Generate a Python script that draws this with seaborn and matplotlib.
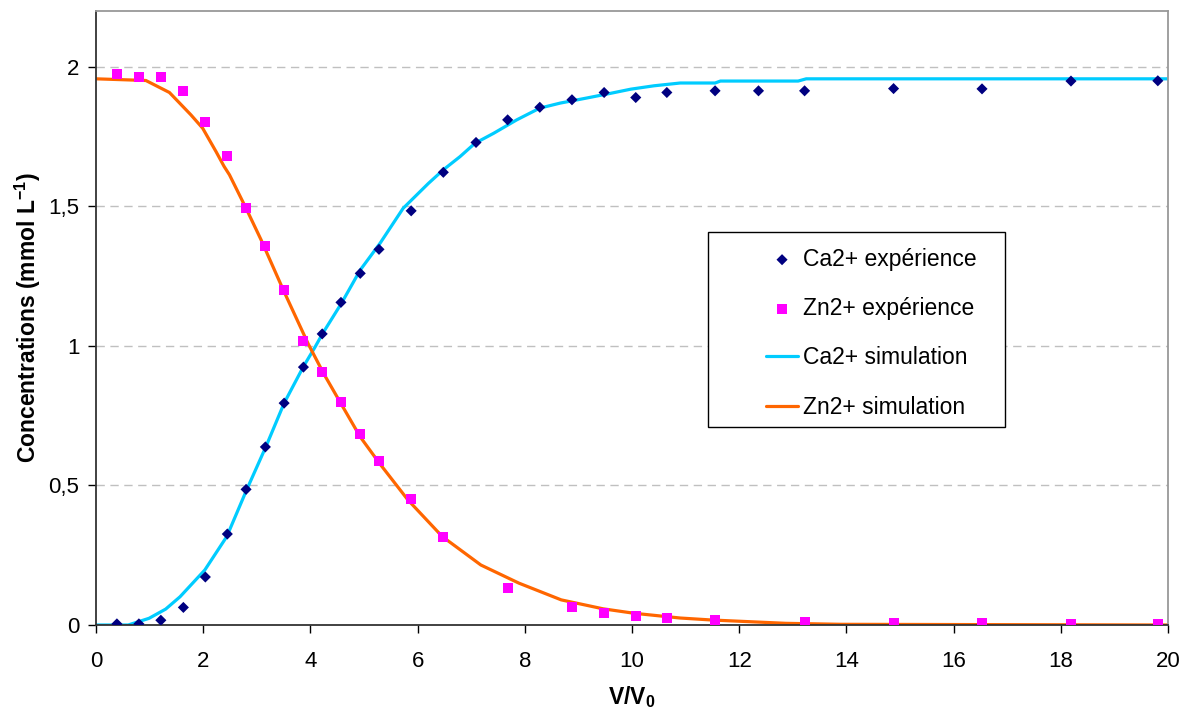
import matplotlib
matplotlib.use("Agg")
import matplotlib.pyplot as plt
from matplotlib.patches import Rectangle
import seaborn as sns

# experimental points (V/V0)
ca_exp_x = [0.39, 0.80, 1.21, 1.63, 2.04, 2.45, 2.80, 3.16, 3.51, 3.87, 4.22, 4.57, 4.93, 5.28,
            5.88, 6.48, 7.09, 7.68, 8.28, 8.88, 9.48, 10.07, 10.65, 11.55, 12.36, 13.22,
            14.88, 16.53, 18.19, 19.81]
ca_exp_y = [0.004, 0.004, 0.017, 0.063, 0.172, 0.326, 0.486, 0.638, 0.795, 0.924, 1.043, 1.156,
            1.26, 1.346, 1.484, 1.622, 1.729, 1.81, 1.855, 1.882, 1.908, 1.89, 1.908, 1.914,
            1.914, 1.914, 1.922, 1.921, 1.949, 1.95]

zn_exp_x = [0.39, 0.80, 1.21, 1.63, 2.04, 2.45, 2.80, 3.16, 3.51, 3.87, 4.22, 4.57, 4.93, 5.28,
            5.88, 6.48, 7.68, 8.88, 9.48, 10.07, 10.65, 11.55, 13.22, 14.88, 16.53, 18.19, 19.81]
zn_exp_y = [1.975, 1.962, 1.962, 1.914, 1.802, 1.679, 1.493, 1.358, 1.20, 1.019, 0.907, 0.80,
            0.684, 0.586, 0.452, 0.314, 0.133, 0.063, 0.044, 0.033, 0.026, 0.018, 0.012, 0.008,
            0.006, 0.005, 0.004]

# simulation curves
ca_sim_x = [0, 0.6, 0.99, 1.3, 1.567, 2.03, 2.44, 2.81, 3.17, 3.51, 3.87, 4.09, 4.23, 4.58, 4.93,
            5.30, 5.73, 6.2, 6.48, 6.79, 7.07, 7.42, 7.85, 8.28, 8.66, 9.15, 9.6, 9.98, 10.41,
            10.9, 11.55, 11.65, 13.1, 13.25, 20]
ca_sim_y = [0, 0, 0.024, 0.057, 0.101, 0.197, 0.317, 0.484, 0.639, 0.795, 0.926, 0.997, 1.045,
            1.153, 1.272, 1.368, 1.493, 1.582, 1.631, 1.678, 1.726, 1.762, 1.81, 1.852, 1.87,
            1.888, 1.905, 1.92, 1.932, 1.942, 1.942, 1.949, 1.949, 1.957, 1.957]

zn_sim_x = [0, 0.93, 1.37, 1.77, 1.99, 2.24, 2.39, 2.49, 2.80, 3.08, 3.5, 3.96, 4.25, 4.58, 4.93,
            5.29, 5.82, 6.46, 7.18, 7.89, 8.68, 9.46, 10.04, 10.9, 11.48, 12.87, 13.9, 20]
zn_sim_y = [1.957, 1.951, 1.908, 1.828, 1.78, 1.696, 1.643, 1.613, 1.493, 1.38, 1.198, 1.007, 0.9,
            0.79, 0.674, 0.579, 0.448, 0.317, 0.215, 0.15, 0.09, 0.058, 0.042, 0.025, 0.018,
            0.006, 0.0025, 0.0]

y_ticks = [0, 0.5, 1, 1.5, 2]
y_tick_labels = ["0", "0,5", "1", "1,5", "2"]
x_ticks = [0, 2, 4, 6, 8, 10, 12, 14, 16, 18, 20]

sns.set_style("white")
plt.rcParams['font.family'] = ['Liberation Sans', 'DejaVu Sans']
plt.rcParams['mathtext.fontset'] = 'custom'
plt.rcParams['mathtext.rm'] = 'Liberation Sans'
plt.rcParams['mathtext.bf'] = 'Liberation Sans:bold'
plt.rcParams['text.color'] = 'black'
plt.rcParams['axes.labelcolor'] = 'black'
plt.rcParams['xtick.labelcolor'] = 'black'
plt.rcParams['ytick.labelcolor'] = 'black'

fig = plt.figure(figsize=(11.83, 7.08), dpi=100)
ax = fig.add_axes([96 / 1183, 1 - 625 / 708, (1168 - 96) / 1183, (625 - 11) / 708])

for y in y_ticks[1:]:
    ax.axhline(y, color='#c0c0c0', lw=1, ls=(0, (6, 4)), zorder=0)

sns.lineplot(x=ca_sim_x, y=ca_sim_y, ax=ax, color='#00ccff', lw=2.3, label='Ca2+ simulation',
             sort=False, zorder=2)
sns.lineplot(x=zn_sim_x, y=zn_sim_y, ax=ax, color='#ff6600', lw=2.3, label='Zn2+ simulation',
             sort=False, zorder=2)
sns.scatterplot(x=ca_exp_x, y=ca_exp_y, ax=ax, marker='D', s=32, color='#000080',
                edgecolor='none', label='Ca2+ expérience', zorder=3)
sns.scatterplot(x=zn_exp_x, y=zn_exp_y, ax=ax, marker='s', s=52, color='#ff00ff',
                edgecolor='none', label='Zn2+ expérience', zorder=3)

ax.set_xlim(0, 20)
ax.set_ylim(0, 2.2)
ax.set_xticks(x_ticks)
ax.set_yticks(y_ticks)
ax.set_yticklabels(y_tick_labels)
ax.tick_params(axis='both', direction='out', length=5.5, width=1, color='black',
               labelsize=16, bottom=True, left=True)
ax.tick_params(axis='x', pad=13)
ax.tick_params(axis='y', pad=6.5)

for side in ['left', 'bottom']:
    ax.spines[side].set_color('#333333')
    ax.spines[side].set_linewidth(1.3)
for side in ['top', 'right']:
    ax.spines[side].set_color('#999999')
    ax.spines[side].set_linewidth(1.3)

ax.set_xlabel('V/V$_\\mathbf{0}$', fontsize=16.5, fontweight='bold', labelpad=9)
ax.set_ylabel('Concentrations (mmol L$^{\\mathbf{-1}}$)', fontsize=16.5, fontweight='bold',
              labelpad=4)

# legend box drawn separately (Excel-style wide frame)
ax.add_patch(Rectangle((0.5709, 0.3225), 0.2771, 0.3175, transform=ax.transAxes,
                       facecolor='white', edgecolor='black', lw=1, zorder=4))

handles, labels = ax.get_legend_handles_labels()
order = [labels.index(l) for l in ['Ca2+ expérience', 'Zn2+ expérience',
                                    'Ca2+ simulation', 'Zn2+ simulation']]
leg = ax.legend([handles[i] for i in order], [labels[i] for i in order],
                loc='upper left', bbox_to_anchor=(0.625, 0.6145), fontsize=16.5,
                labelspacing=1.15, handlelength=1.4, handletextpad=0.2,
                borderpad=0, borderaxespad=0, frameon=False)
leg.set_zorder(5)

fig.savefig('out.png', dpi=100)
